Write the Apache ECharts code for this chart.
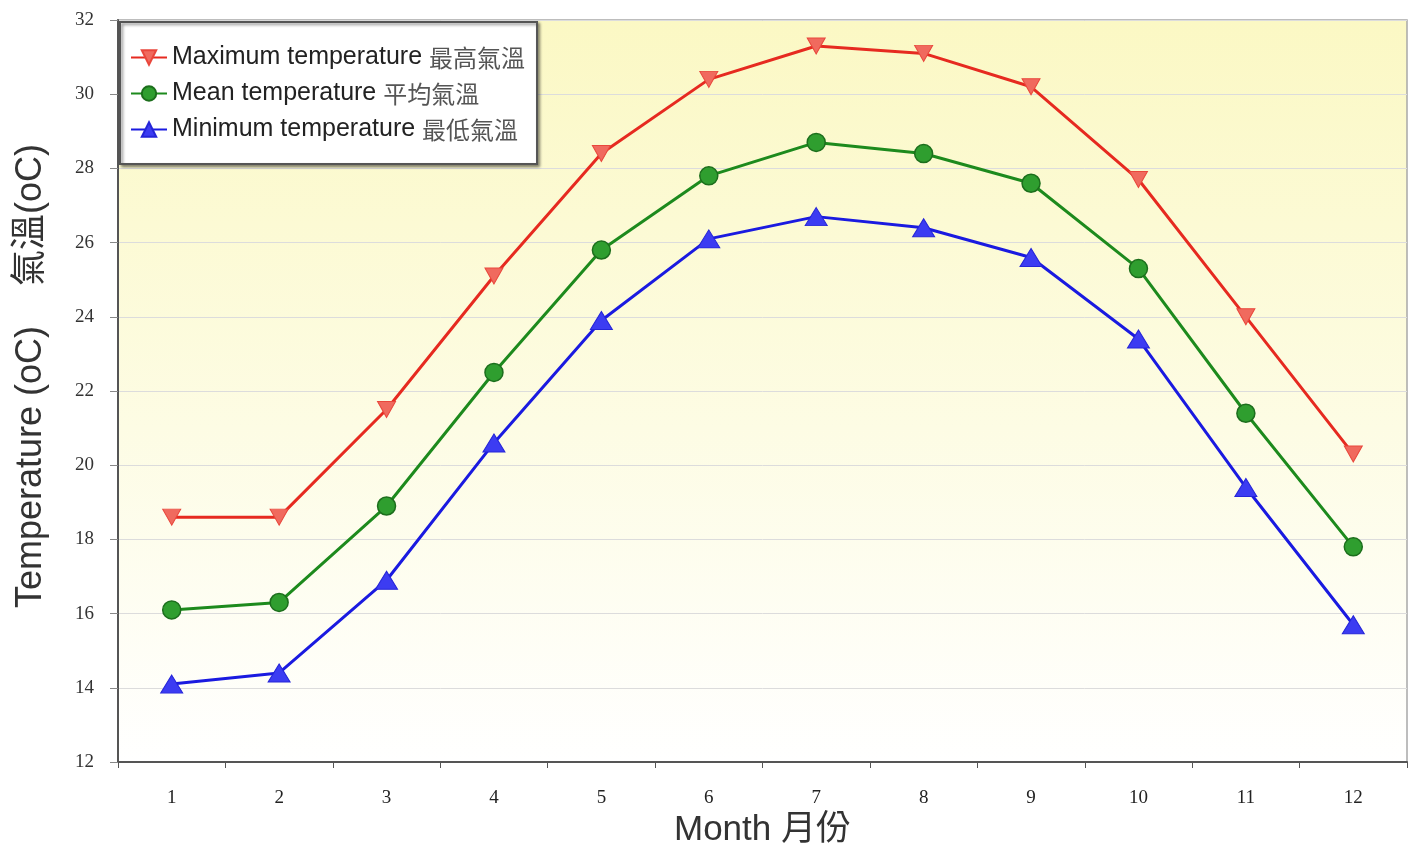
<!DOCTYPE html>
<html><head><meta charset="utf-8">
<script src="https://cdn.jsdelivr.net/npm/echarts@6/dist/echarts.min.js"></script>
<style>html,body{margin:0;padding:0;background:#fff}#c{width:1422px;height:860px}</style>
</head><body><div id="c"></div>
<script>
const months = ['1','2','3','4','5','6','7','8','9','10','11','12'];
const maxTemp = [18.6,18.6,21.5,25.1,28.4,30.4,31.3,31.1,30.2,27.7,24.0,20.3];
const meanTemp = [16.1,16.3,18.9,22.5,25.8,27.8,28.7,28.4,27.6,25.3,21.4,17.8];
const minTemp = [14.1,14.4,16.9,20.6,23.9,26.1,26.7,26.4,25.6,23.4,19.4,15.7];
const seriesNames = ['Maximum temperature 最高氣溫','Mean temperature 平均氣溫','Minimum temperature 最低氣溫'];
const yTitle = 'Temperature (oC)    氣溫(oC)';
const xTitle = 'Month 月份';

const chart = echarts.init(document.getElementById('c'));
chart.setOption({
  animation:false,
  backgroundColor:'#fff',
  grid:{left:118,right:15,top:20,bottom:98,show:true,borderColor:'#a8a8a8',borderWidth:1.5,
    backgroundColor:{type:'linear',x:0,y:0,x2:0,y2:1,colorStops:[{offset:0,color:'#fbf8c4'},{offset:0.55,color:'#fdfce4'},{offset:1,color:'#ffffff'}]}},
  legend:{
    orient:'vertical',left:120,top:22,
    backgroundColor:'#fff',borderColor:'#555',borderWidth:2,
    shadowColor:'rgba(0,0,0,0.45)',shadowBlur:3,shadowOffsetX:2,shadowOffsetY:2,
    padding:[23,12,22,10],itemWidth:36,itemHeight:18,itemGap:11,
    formatter:function(n){const i=n.lastIndexOf(' ');return '{en|'+n.slice(0,i)+'} {zh|'+n.slice(i+1)+'}';},
    textStyle:{fontFamily:'Liberation Sans, Arial',fontSize:25,color:'#222',
      rich:{en:{fontFamily:'Liberation Sans, Arial',fontSize:25,color:'#222'},zh:{fontFamily:'Noto Sans CJK TC',fontSize:24,color:'#555'}}},
    data:seriesNames
  },
  xAxis:{type:'category',data:months,boundaryGap:true,
    name:xTitle,nameLocation:'middle',nameGap:47,
    nameTextStyle:{fontFamily:'Liberation Sans, Noto Sans CJK TC',fontSize:35,color:'#333'},
    axisLine:{lineStyle:{color:'#555',width:2}},
    axisTick:{show:true,length:6,lineStyle:{color:'#555'}},
    axisLabel:{fontFamily:'Liberation Serif, Times New Roman',fontSize:19,color:'#222',margin:27},
    splitLine:{show:false}},
  yAxis:{type:'value',min:12,max:32,interval:2,
    name:yTitle,nameLocation:'middle',nameGap:69,nameRotate:90,
    nameTextStyle:{fontFamily:'Liberation Sans, Noto Sans CJK TC',fontSize:36,color:'#333',padding:[0,0,0,30]},
    axisLine:{show:true,lineStyle:{color:'#555',width:2}},
    axisTick:{show:true,length:8,lineStyle:{color:'#888'}},
    axisLabel:{fontFamily:'Liberation Serif, Times New Roman',fontSize:19,color:'#333',margin:24},
    splitLine:{show:true,lineStyle:{color:'#dcdcdc',width:1}}},
  series:[
    {name:seriesNames[0],type:'line',data:maxTemp,symbol:'triangle',symbolRotate:180,symbolSize:[18,16],
      lineStyle:{color:'#e62a20',width:3},itemStyle:{color:'#f06a5e',borderColor:'#e9473c',borderWidth:1}},
    {name:seriesNames[1],type:'line',data:meanTemp,symbol:'circle',symbolSize:18,
      lineStyle:{color:'#1d8a1d',width:3},itemStyle:{color:'#2f9e2f',borderColor:'#1c6e1c',borderWidth:1.5}},
    {name:seriesNames[2],type:'line',data:minTemp,symbol:'triangle',symbolSize:[22,18],
      lineStyle:{color:'#1a1ae0',width:3},itemStyle:{color:'#3c3cf2',borderColor:'#2525d8',borderWidth:1}}
  ]
});
</script></body></html>
